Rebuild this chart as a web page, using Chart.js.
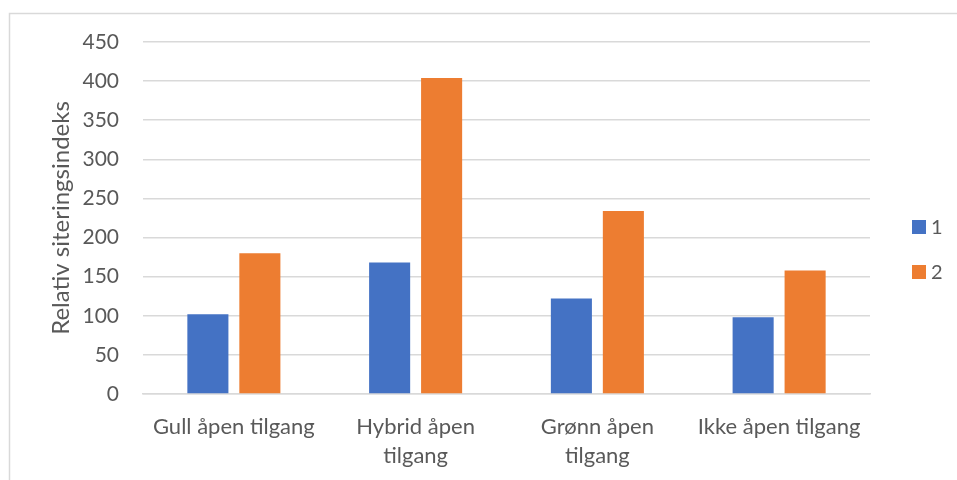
<!DOCTYPE html>
<html>
<head>
<meta charset="utf-8">
<title>Relativ siteringsindeks</title>
<script src="https://cdn.jsdelivr.net/npm/chart.js@4/dist/chart.umd.min.js"></script>
<style>
  html, body { margin: 0; padding: 0; background: #ffffff; }
  #wrap { position: relative; width: 957px; height: 480px; }
</style>
</head>
<body>
<div id="wrap"><canvas id="chart" width="957" height="480"></canvas></div>
<script>
// Categories (multi-line labels are arrays of lines)
const categories = [
  'Gull åpen tilgang',
  ['Hybrid åpen', 'tilgang'],
  ['Grønn åpen', 'tilgang'],
  'Ikke åpen tilgang'
];
const seriesNames = ['1', '2'];
const series1 = [102, 168, 122, 98];
const series2 = [180, 404, 234, 158];
const yTicks = [0, 50, 100, 150, 200, 250, 300, 350, 400, 450];

const FONT = "Lato, 'Liberation Sans', sans-serif";
const TEXT = '#595959';
const GRID = '#d9d9d9';

// Light frame around the chart, plus a legend drawn to the right of the plot
const framePlugin = {
  id: 'frame',
  beforeDraw(chart) {
    const ctx = chart.ctx;
    ctx.save();
    ctx.fillStyle = '#ffffff';
    ctx.fillRect(0, 0, chart.width, chart.height);
    ctx.strokeStyle = GRID;
    ctx.lineWidth = 1.5;
    ctx.beginPath();
    ctx.moveTo(9.5, chart.height + 5);
    ctx.lineTo(9.5, 13.5);
    ctx.lineTo(chart.width + 5, 13.5);
    ctx.stroke();
    ctx.restore();
  },
  afterDraw(chart) {
    const ctx = chart.ctx;
    ctx.save();
    ctx.font = '20px ' + FONT;
    ctx.textBaseline = 'middle';
    ctx.textAlign = 'left';
    chart.data.datasets.forEach((ds, i) => {
      const y = 220 + i * 45;
      ctx.fillStyle = ds.backgroundColor;
      ctx.fillRect(912, y, 14, 14);
      ctx.fillStyle = TEXT;
      ctx.fillText(ds.label, 931, y + 7.5);
    });
    ctx.restore();
  }
};

new Chart(document.getElementById('chart'), {
  type: 'bar',
  data: {
    labels: categories,
    datasets: [
      { label: seriesNames[0], data: series1, backgroundColor: '#4472c4' },
      { label: seriesNames[1], data: series2, backgroundColor: '#ed7d31' }
    ]
  },
  options: {
    responsive: false,
    animation: false,
    devicePixelRatio: 1,
    layout: { padding: { left: 0, top: 42, right: 87, bottom: 0 } },
    datasets: { bar: { categoryPercentage: 0.572, barPercentage: 0.79 } },
    plugins: {
      legend: { display: false },
      tooltip: { enabled: false }
    },
    scales: {
      x: {
        grid: { display: false, drawTicks: false },
        border: { display: true, color: GRID, width: 1.5 },
        ticks: {
          color: TEXT,
          font: { family: FONT, size: 22, lineHeight: '29px' },
          padding: 18,
          maxRotation: 0,
          autoSkip: false
        },
        afterFit(scale) { scale.height = 86; }
      },
      y: {
        min: 0,
        max: 450,
        afterBuildTicks(scale) { scale.ticks = yTicks.map(v => ({ value: v })); },
        grid: { color: GRID, lineWidth: 1.5, drawTicks: false },
        border: { display: false },
        ticks: {
          color: TEXT,
          font: { family: FONT, size: 21 },
          padding: 24
        },
        title: {
          display: true,
          text: 'Relativ siteringsindeks',
          color: TEXT,
          font: { family: FONT, size: 24 },
          padding: { top: 47, bottom: 0 }
        },
        afterFit(scale) { scale.width = 143; }
      }
    }
  },
  plugins: [framePlugin]
});
</script>
</body>
</html>
